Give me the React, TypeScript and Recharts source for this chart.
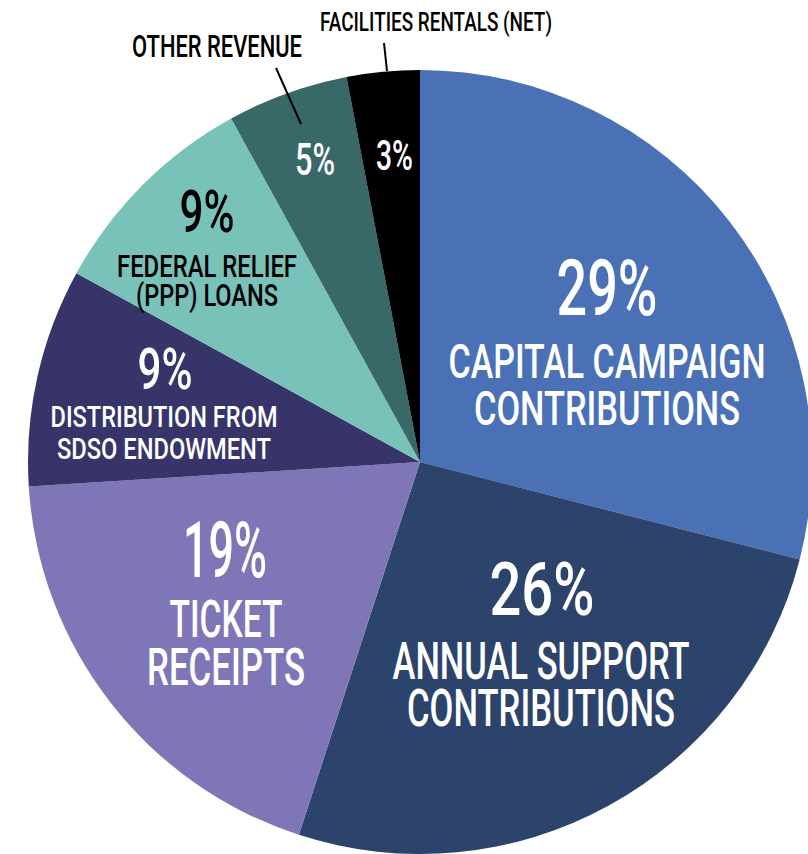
import { PieChart, Pie, Cell } from "recharts"

const categories = [
  "CAPITAL CAMPAIGN\nCONTRIBUTIONS",
  "ANNUAL SUPPORT\nCONTRIBUTIONS",
  "TICKET\nRECEIPTS",
  "DISTRIBUTION FROM\nSDSO ENDOWMENT",
  "FEDERAL RELIEF\n(PPP) LOANS",
  "OTHER REVENUE",
  "FACILITIES RENTALS (NET)",
]
const shares = [29, 26, 19, 9, 9, 5, 3]
const sliceColors = ["#4a71b6", "#2c436b", "#7e76b6", "#37346a", "#78c2b9", "#386868", "#000000"]

const data = categories.map((name, i) => ({ name, value: shares[i] }))

const FONT = "Roboto, 'Liberation Sans', sans-serif"

// label placement relative to pie centre: pct = percentage, lines = name lines, outside = name drawn outside the pie
const layout: any[] = [
  { pct: { dx: 187, dy: -147, size: 77, w: 101 }, lines: [{ dy: -84, size: 48, w: 317 }, { dy: -37, size: 48, w: 266 }], dx: 187, fill: "#fff" },
  { pct: { dx: 122, dy: 153, size: 75, w: 105 }, lines: [{ dy: 217, size: 51, w: 297 }, { dy: 264, size: 51, w: 268 }], dx: 121, fill: "#fff" },
  { pct: { dx: -195, dy: 115, size: 77, w: 84 }, lines: [{ dy: 175, size: 52, w: 113 }, { dy: 223, size: 52, w: 158 }], dx: -194, fill: "#fff" },
  { pct: { dx: -255, dy: -73, size: 58, w: 55 }, lines: [{ dy: -35, size: 30, w: 227 }, { dy: -3, size: 30, w: 214 }], dx: -256, fill: "#fff" },
  { pct: { dx: -213, dy: -230, size: 59, w: 55 }, lines: [{ dy: -185, size: 31, w: 180 }, { dy: -156, size: 31, w: 142 }], dx: -213, fill: "#000" },
  { pct: { dx: -105, dy: -287, size: 45, w: 40 }, lines: [{ dy: -405, size: 31, w: 170 }], dx: -203, fill: "#fff", outside: true, leader: [-144, -394, -119, -338] },
  { pct: { dx: -25.5, dy: -292, size: 42, w: 37 }, lines: [{ dy: -431, size: 25, w: 232 }], dx: 16, fill: "#fff", outside: true, leader: [-36, -419, -33, -391] },
]

const renderLabel = (props: any) => {
  const { cx, cy, index } = props
  const l = layout[index]
  const names = categories[index].split("\n")
  const nameFill = l.outside ? "#000" : l.fill
  return (
    <g key={`lbl-${index}`} fontFamily={FONT} fontWeight={500} textAnchor="middle">
      <text x={cx + l.pct.dx} y={cy + l.pct.dy} fontSize={l.pct.size} fill={l.fill}
        textLength={l.pct.w} lengthAdjust="spacingAndGlyphs">
        {`${shares[index]}%`}
      </text>
      {names.map((t, j) => (
        <text key={j} x={cx + l.dx} y={cy + l.lines[j].dy} fontSize={l.lines[j].size} fill={nameFill}
          textLength={l.lines[j].w} lengthAdjust="spacingAndGlyphs">
          {t}
        </text>
      ))}
      {l.leader && (
        <line x1={cx + l.leader[0]} y1={cy + l.leader[1]} x2={cx + l.leader[2]} y2={cy + l.leader[3]}
          stroke="#000" strokeWidth={2} />
      )}
    </g>
  )
}

export default function App() {
  return (
    <div style={{ position: "absolute", left: 0, top: 0, width: 808, height: 854, background: "#fff" }}>
      <PieChart width={808} height={854} margin={{ top: 0, right: 0, bottom: 0, left: 0 }}>
        <Pie
          data={data}
          dataKey="value"
          nameKey="name"
          cx={420}
          cy={462}
          outerRadius={392}
          startAngle={90}
          endAngle={-270}
          stroke="none"
          label={renderLabel}
          labelLine={false}
          isAnimationActive={false}
        >
          {data.map((d, i) => (
            <Cell key={d.name} fill={sliceColors[i]} />
          ))}
        </Pie>
      </PieChart>
    </div>
  )
}
